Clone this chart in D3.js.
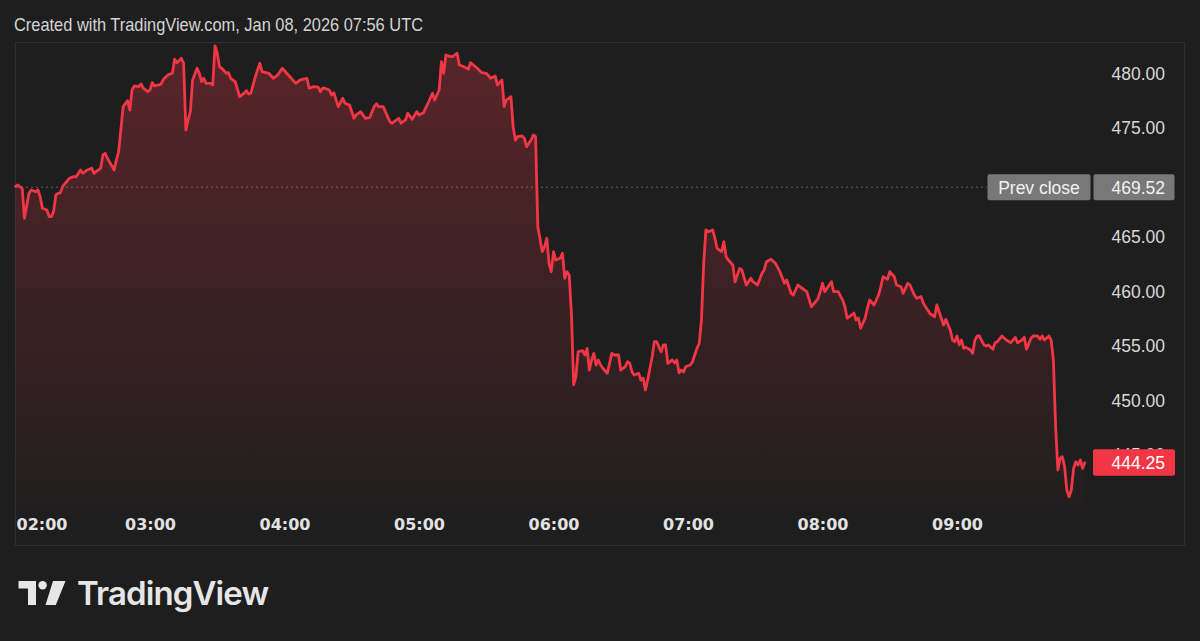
<!DOCTYPE html>
<html>
<head>
<meta charset="utf-8">
<script src="https://cdn.jsdelivr.net/npm/d3@7"></script>
<style>
  body { margin: 0; background: #1e1e1e; }
  svg { display: block; }
</style>
</head>
<body>
<svg id="chart" width="1200" height="641"></svg>
<script>
// minutes after 02:00 (chart time) and last price at that minute
const minutes = [
  0,1,3,4,6,7,9,10,11,12, 14,15,16,17,18,19,20,21,24,26,
  27,29,30,32,34,35,37,38,39,40, 41,44,45,46,47,48,50,51,52,53,
  55,56,57,59,60,61,62,64,65,66, 68,70,71,72,73,74,75,76,77,78,
  79,81,82,83,84,85,87,88,89,90, 91,92,94,95,96,98,100,102,103,104,
  105,107,109,110,113,115,117,119,121,123, 125,127,130,131,133,135,136,137,138,140,
  141,142,144,146,147,149,151,152,154,156, 158,160,161,162,164,167,168,170,171,172,
  174,175,177,179,180,182,184,186,187,189, 190,191,192,194,195,197,198,200,202,203,
  206,208,210,212,214,215,217,218,219,221, 222,223,224,226,227,228,230,231,232,233,
  235,236,237,238,239,240,241,243,244,245, 246,247,248,249,250,251,253,254,255,256,
  257,258,259,260,261,262,264,266,267,269, 270,272,273,274,275,276,278,279,280,281,
  282,284,285,286,288,289,290,291,293,294, 295,296,297,298,299,301,302,303,304,305,
  306,307,308,309,311,312,313,315,316,317, 318,320,321,323,324,326,328,329,331,333,
  334,335,337,339,341,343,344,346,347,349, 350,352,353,355,357,358,359,360,361,363,
  364,365,367,369,370,371,373,374,375,376, 377,379,380,381,383,385,386,387,389,390,
  392,393,395,396,398,399,401,402,404,405, 408,410,411,413,414,415,417,418,419,420,
  421,422,423,424,426,427,428,429,430,432, 433,434,436,437,438,440,442,444,446,447,
  449,450,451,453,454,456,457,458,459,461, 462,463,464,465,466,467,468,469,470,471,
  472,473,474,475,476,477
];
const prices = [
  469.60,469.72,469.42,466.67,468.96,469.27,469.11,469.27,468.65,467.59,
  467.43,466.82,466.82,467.28,468.81,468.96,469.00,469.57,470.34,470.49,
  470.46,471.10,470.80,471.10,471.26,470.80,471.10,471.26,472.48,472.63,
  472.17,471.10,472.00,472.78,474.77,476.91,477.46,476.60,478.44,478.81,
  478.74,478.99,478.60,478.28,478.44,479.11,478.81,478.90,478.99,479.42,
  479.82,479.97,481.26,480.94,481.13,481.35,480.89,474.77,475.69,476.45,
  479.36,480.43,479.97,479.20,479.51,479.05,479.05,478.90,482.48,481.81,
  480.58,480.43,479.97,480.03,479.51,479.20,477.83,478.14,478.38,478.07,
  478.14,479.66,480.89,480.12,479.97,479.51,479.82,480.43,479.97,479.51,
  479.05,479.36,479.51,478.60,478.74,478.71,478.28,478.60,478.60,478.44,
  477.98,478.19,476.91,477.68,477.22,477.06,475.84,476.15,476.45,475.84,
  475.90,476.91,477.16,476.91,476.91,475.53,475.39,475.69,475.84,475.39,
  475.69,476.30,475.75,476.45,476.15,476.36,477.22,478.14,477.52,478.44,
  481.04,479.97,481.65,481.50,481.50,481.81,480.73,480.58,480.34,480.94,
  480.43,480.03,479.97,479.51,479.72,478.90,479.36,476.91,477.52,477.83,
  475.07,473.85,474.16,474.22,474.00,473.24,473.85,474.31,474.16,465.90,
  463.61,464.06,464.84,462.54,461.77,463.61,462.84,463.00,463.46,461.17,
  461.77,461.47,457.95,451.38,452.14,454.43,454.52,454.13,454.74,452.75,
  453.67,454.28,453.21,453.67,453.21,452.91,452.45,454.28,454.13,454.13,
  452.75,453.06,453.51,453.37,452.60,452.29,452.45,451.83,452.00,450.92,
  451.83,453.97,455.35,455.35,454.43,455.05,455.05,453.37,453.67,453.40,
  453.67,452.50,452.75,452.57,453.06,453.21,453.51,454.13,454.74,455.20,
  457.34,462.54,465.60,465.44,465.60,464.84,463.92,463.61,464.52,463.15,
  462.84,462.39,460.85,462.08,461.93,460.55,461.17,460.85,460.55,461.62,
  461.93,462.69,462.91,462.54,461.77,460.71,461.01,459.79,459.63,460.55,
  460.39,460.09,459.94,458.56,459.02,459.33,459.94,460.71,459.94,460.55,
  460.85,459.94,459.94,459.17,458.56,457.50,457.80,457.98,457.34,457.52,
  456.58,457.50,458.41,459.17,458.72,459.63,460.39,461.31,461.07,461.77,
  461.31,460.55,460.39,459.79,460.71,460.55,459.63,459.33,459.48,458.87,
  457.91,457.64,458.72,457.50,456.88,457.40,456.42,455.50,455.35,455.87,
  455.05,455.50,454.74,454.83,454.59,454.28,455.50,455.87,455.87,455.05,
  454.95,455.05,454.65,455.26,455.35,455.87,455.50,455.26,455.75,455.26,
  455.50,455.75,454.65,455.66,455.87,455.87,455.57,455.87,455.50,455.87,
  455.50,453.67,447.55,443.58,444.65,444.80,443.88,441.74,441.13,441.74,
  443.73,444.34,444.04,444.50,443.73,444.25
];
// 470.00 sits under the prev close label, so TradingView drops it
const priceTicks = [445, 450, 455, 460, 465, 475, 480];
const prevClose = 469.52;
const headerText = "Created with TradingView.com, Jan 08, 2026 07:56 UTC";

const start = new Date(Date.UTC(2026, 0, 8, 2, 0));
const data = minutes.map((m, i) => ({ t: d3.utcMinute.offset(start, m), v: prices[i] }));

const svg = d3.select("#chart");
const W = 1200, H = 641;
const pane = { left: 15.5, top: 42.5, right: 1184.5, bottom: 545.5 };
const plotBottom = 505;

const RED = "#f23645";

svg.append("rect").attr("width", W).attr("height", H).attr("fill", "#1e1e1e");

// header
svg.append("text")
  .attr("x", 14).attr("y", 30.5)
  .attr("fill", "#d4d4d4")
  .style("font-family", "'Liberation Sans', sans-serif")
  .style("font-size", "18.5px")
  .attr("textLength", 409)
  .attr("lengthAdjust", "spacingAndGlyphs")
  .text(headerText);

// frame
svg.append("rect")
  .attr("x", pane.left).attr("y", pane.top)
  .attr("width", pane.right - pane.left).attr("height", pane.bottom - pane.top)
  .attr("fill", "none").attr("stroke", "#2f2f2f").attr("stroke-width", 1);

// scales
const x = d3.scaleUtc()
  .domain([start, d3.utcHour.offset(start, 8)])
  .range([15.5, 15.5 + 8 * 134.5]);

const y = d3.scaleLinear()
  .domain([440.37, 482.84])
  .range([plotBottom, 42]);

// gradient
const defs = svg.append("defs");
const grad = defs.append("linearGradient")
  .attr("id", "fillGrad")
  .attr("gradientUnits", "userSpaceOnUse")
  .attr("x1", 0).attr("x2", 0)
  .attr("y1", y(d3.max(prices))).attr("y2", plotBottom);
grad.append("stop").attr("offset", 0).attr("stop-color", RED).attr("stop-opacity", 0.28);
grad.append("stop").attr("offset", 1).attr("stop-color", RED).attr("stop-opacity", 0.02);

const area = d3.area()
  .x(d => x(d.t))
  .y0(plotBottom)
  .y1(d => y(d.v));

const line = d3.line()
  .x(d => x(d.t))
  .y(d => y(d.v));

svg.append("path")
  .datum(data)
  .attr("d", area)
  .attr("fill", "url(#fillGrad)");

// prev close dotted line
svg.append("line")
  .attr("x1", pane.left + 1).attr("x2", 987)
  .attr("y1", y(prevClose)).attr("y2", y(prevClose))
  .attr("stroke", "#a8a8a8")
  .attr("stroke-width", 1)
  .attr("stroke-dasharray", "1,4");

svg.append("path")
  .datum(data)
  .attr("d", line)
  .attr("fill", "none")
  .attr("stroke", RED)
  .attr("stroke-width", 2.8)
  .attr("stroke-linejoin", "round")
  .attr("stroke-linecap", "round");

// price axis
const yAxis = svg.append("g")
  .call(d3.axisRight(y).tickValues(priceTicks).tickFormat(d3.format(".2f")).tickSize(0));
yAxis.select(".domain").remove();
yAxis.selectAll("text")
  .attr("x", 1165)
  .attr("dy", "0.36em")
  .attr("text-anchor", "end")
  .attr("fill", "#d8d8d8")
  .style("font-family", "'Liberation Sans', sans-serif")
  .style("font-size", "17.5px");

// time axis
const xAxis = svg.append("g")
  .attr("transform", `translate(0,${plotBottom})`)
  .call(d3.axisBottom(x).ticks(d3.utcHour.every(1)).tickFormat(d3.utcFormat("%H:%M")).tickSize(0));
xAxis.select(".domain").remove();
xAxis.selectAll(".tick").filter(d => d > d3.utcHour.offset(start, 7.9)).remove();
xAxis.selectAll("text")
  .attr("y", 19)
  .attr("dy", "0.36em")
  .attr("fill", "#e2e2e2")
  .style("font-family", "'DejaVu Sans', sans-serif")
  .style("font-weight", "bold")
  .style("font-size", "16px");
xAxis.selectAll("text").filter(d => +d === +start)
  .attr("text-anchor", "start")
  .attr("x", 16 - x(start));

// prev close labels
const pcY = y(prevClose);
const labelFont = "'Liberation Sans', sans-serif";
svg.append("rect")
  .attr("x", 987.5).attr("y", pcY - 13).attr("width", 103).attr("height", 26)
  .attr("rx", 2).attr("fill", "#787878");
svg.append("text")
  .attr("x", 1039).attr("y", pcY).attr("dy", "0.36em")
  .attr("text-anchor", "middle").attr("fill", "#f2f2f2")
  .style("font-family", labelFont).style("font-size", "17.5px")
  .text("Prev close");
svg.append("rect")
  .attr("x", 1093.5).attr("y", pcY - 13).attr("width", 81).attr("height", 26)
  .attr("rx", 2).attr("fill", "#787878");
svg.append("text")
  .attr("x", 1165).attr("y", pcY).attr("dy", "0.36em")
  .attr("text-anchor", "end").attr("fill", "#f2f2f2")
  .style("font-family", labelFont).style("font-size", "17.5px")
  .text(d3.format(".2f")(prevClose));

// last price label
const last = data[data.length - 1];
svg.append("rect")
  .attr("x", 1093).attr("y", y(last.v) - 13.5).attr("width", 82).attr("height", 26.5)
  .attr("rx", 2).attr("fill", RED);
svg.append("text")
  .attr("x", 1165).attr("y", y(last.v)).attr("dy", "0.36em")
  .attr("text-anchor", "end").attr("fill", "#ffffff")
  .style("font-family", labelFont).style("font-size", "17.5px")
  .text(d3.format(".2f")(last.v));

// TradingView logo
const logo = svg.append("g").attr("fill", "#e6e6e6");
logo.append("path").attr("d", "M18.5,581 H36 V605 H28 V588.5 H18.5 Z");
logo.append("circle").attr("cx", 42.6).attr("cy", 585.2).attr("r", 4.2);
logo.append("path").attr("d", "M53,581 H65.5 L55.8,605 H45.5 Z");
svg.append("text")
  .attr("x", 77).attr("y", 605)
  .attr("fill", "#e6e6e6")
  .style("font-family", "Inter, sans-serif")
  .style("font-weight", "600")
  .style("font-size", "33px")
  .style("letter-spacing", "-0.9px")
  .text("TradingView");
</script>
</body>
</html>
